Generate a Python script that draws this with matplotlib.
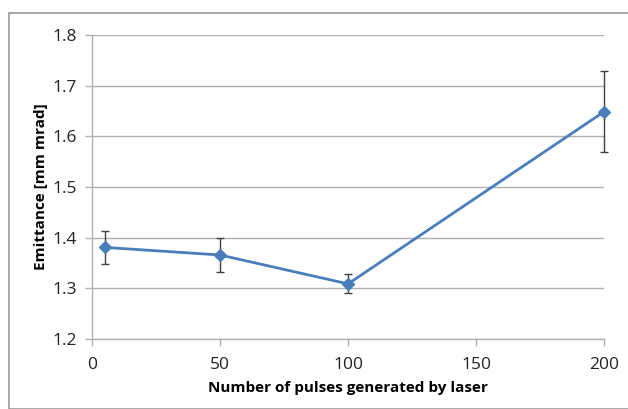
import matplotlib
matplotlib.use("Agg")
import matplotlib.pyplot as plt
from matplotlib.patches import Rectangle

pulses = [5, 50, 100, 200]
emittance = [1.381, 1.366, 1.309, 1.649]
err = [0.032, 0.033, 0.019, 0.080]
xticks = [0, 50, 100, 150, 200]
yticks = [1.2, 1.3, 1.4, 1.5, 1.6, 1.7, 1.8]

plt.rcParams['font.family'] = ['Open Sans', 'DejaVu Sans']

fig = plt.figure(figsize=(6.28, 4.09), dpi=100)
ax = fig.add_axes([0.1465, 0.171, 0.8155, 0.743])

fig.patches.append(Rectangle((9/628, 0), 1, 1 - 13/409, transform=fig.transFigure,
                             fill=False, edgecolor='#9a9a9a', linewidth=1.2))

cont = ax.errorbar(pulses, emittance, yerr=err, color='#4a7ebb', linewidth=2,
                   marker='D', markersize=6, ecolor='#404040', elinewidth=1,
                   capsize=3, capthick=1, zorder=3)
for art in cont.get_children():
    art.set_clip_on(False)

ax.set_xlim(0, 200)
ax.set_ylim(1.2, 1.8)
ax.set_xticks(xticks)
ax.set_yticks(yticks)
ax.set_yticklabels([f"{v:.1f}" for v in yticks])
ax.grid(axis='y', color='#b0b0b0', linewidth=1)
ax.set_axisbelow(True)
for s in ['top', 'right']:
    ax.spines[s].set_visible(False)
for s in ['left', 'bottom']:
    ax.spines[s].set_color('#b0b0b0')
    ax.spines[s].set_linewidth(1)
ax.tick_params(axis='both', colors='#b0b0b0', labelcolor='#222222', labelsize=12.5, length=5, width=1)
ax.tick_params(axis='x', pad=8)
ax.tick_params(axis='y', pad=6)
ax.set_xlabel('Number of pulses generated by laser', fontsize=11, fontweight='bold', labelpad=6)
ax.set_ylabel('Emittance [mm mrad]', fontsize=11, fontweight='bold', labelpad=3)

fig.savefig('out.png', dpi=100)
